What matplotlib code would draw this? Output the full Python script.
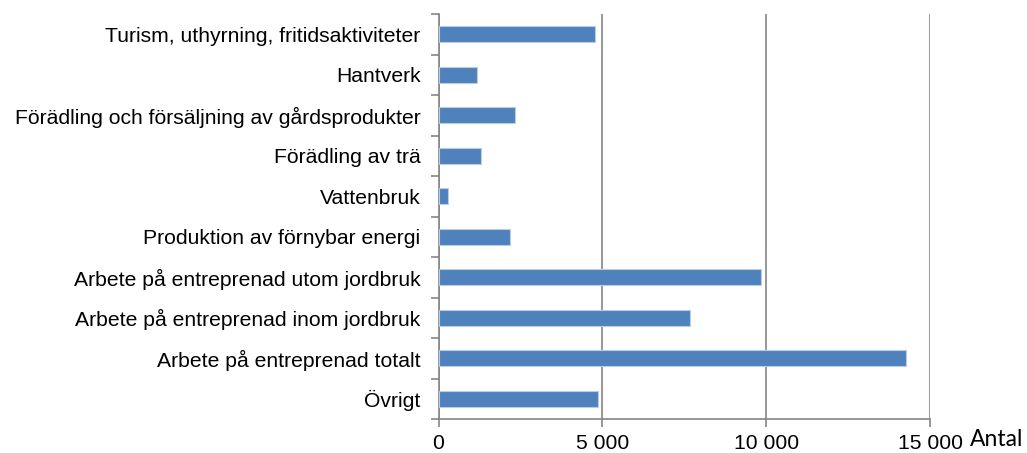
import matplotlib
matplotlib.use("Agg")
import matplotlib.pyplot as plt

categories = [
    "Turism, uthyrning, fritidsaktiviteter",
    "Hantverk",
    "Förädling och försäljning av gårdsprodukter",
    "Förädling av trä",
    "Vattenbruk",
    "Produktion av förnybar energi",
    "Arbete på entreprenad utom jordbruk",
    "Arbete på entreprenad inom jordbruk",
    "Arbete på entreprenad totalt",
    "Övrigt",
]
values = [4790, 1180, 2330, 1300, 280, 2180, 9850, 7660, 14270, 4880]
xticks = [0, 5000, 10000, 15000]
xticklabels = ["0", "5 000", "10 000", "15 000"]

plt.rcParams["font.family"] = ["Liberation Sans", "DejaVu Sans"]

fig = plt.figure(figsize=(10.27, 4.53), dpi=100)
ax = fig.add_axes([0.427, 0.075, 0.4786, 0.894])

n = len(categories)
ypos = list(range(n))[::-1]
ax.barh(ypos, values, height=0.39, color="#4F81BD", edgecolor="#B9CDE5", linewidth=0.8, zorder=3)

ax.set_xlim(0, 15000)
ax.set_ylim(-0.5, n - 0.5)
ax.set_xticks(xticks)
ax.set_xticklabels(xticklabels, fontsize=15.2)
ax.grid(axis="x", color="#868686", linewidth=1.2, zorder=0)

ax.set_yticks(ypos)
ax.set_yticklabels(categories, fontsize=15.2)
ax.tick_params(axis="y", length=0, pad=13)
ax.set_yticks([i - 0.5 for i in range(n + 1)], minor=True)
ax.tick_params(axis="y", which="minor", length=6, color="#868686", width=1.2)
ax.tick_params(axis="x", length=6, color="#868686", width=1.2, pad=5)

for s in ["top", "right"]:
    ax.spines[s].set_visible(False)
for s in ["left", "bottom"]:
    ax.spines[s].set_color("#868686")
    ax.spines[s].set_linewidth(1.2)

fig.text(0.9445, 0.03, "Antal", fontsize=16.5,
         family=["Lato", "DejaVu Sans"], ha="left", va="center")

fig.savefig("out.png", dpi=100)
